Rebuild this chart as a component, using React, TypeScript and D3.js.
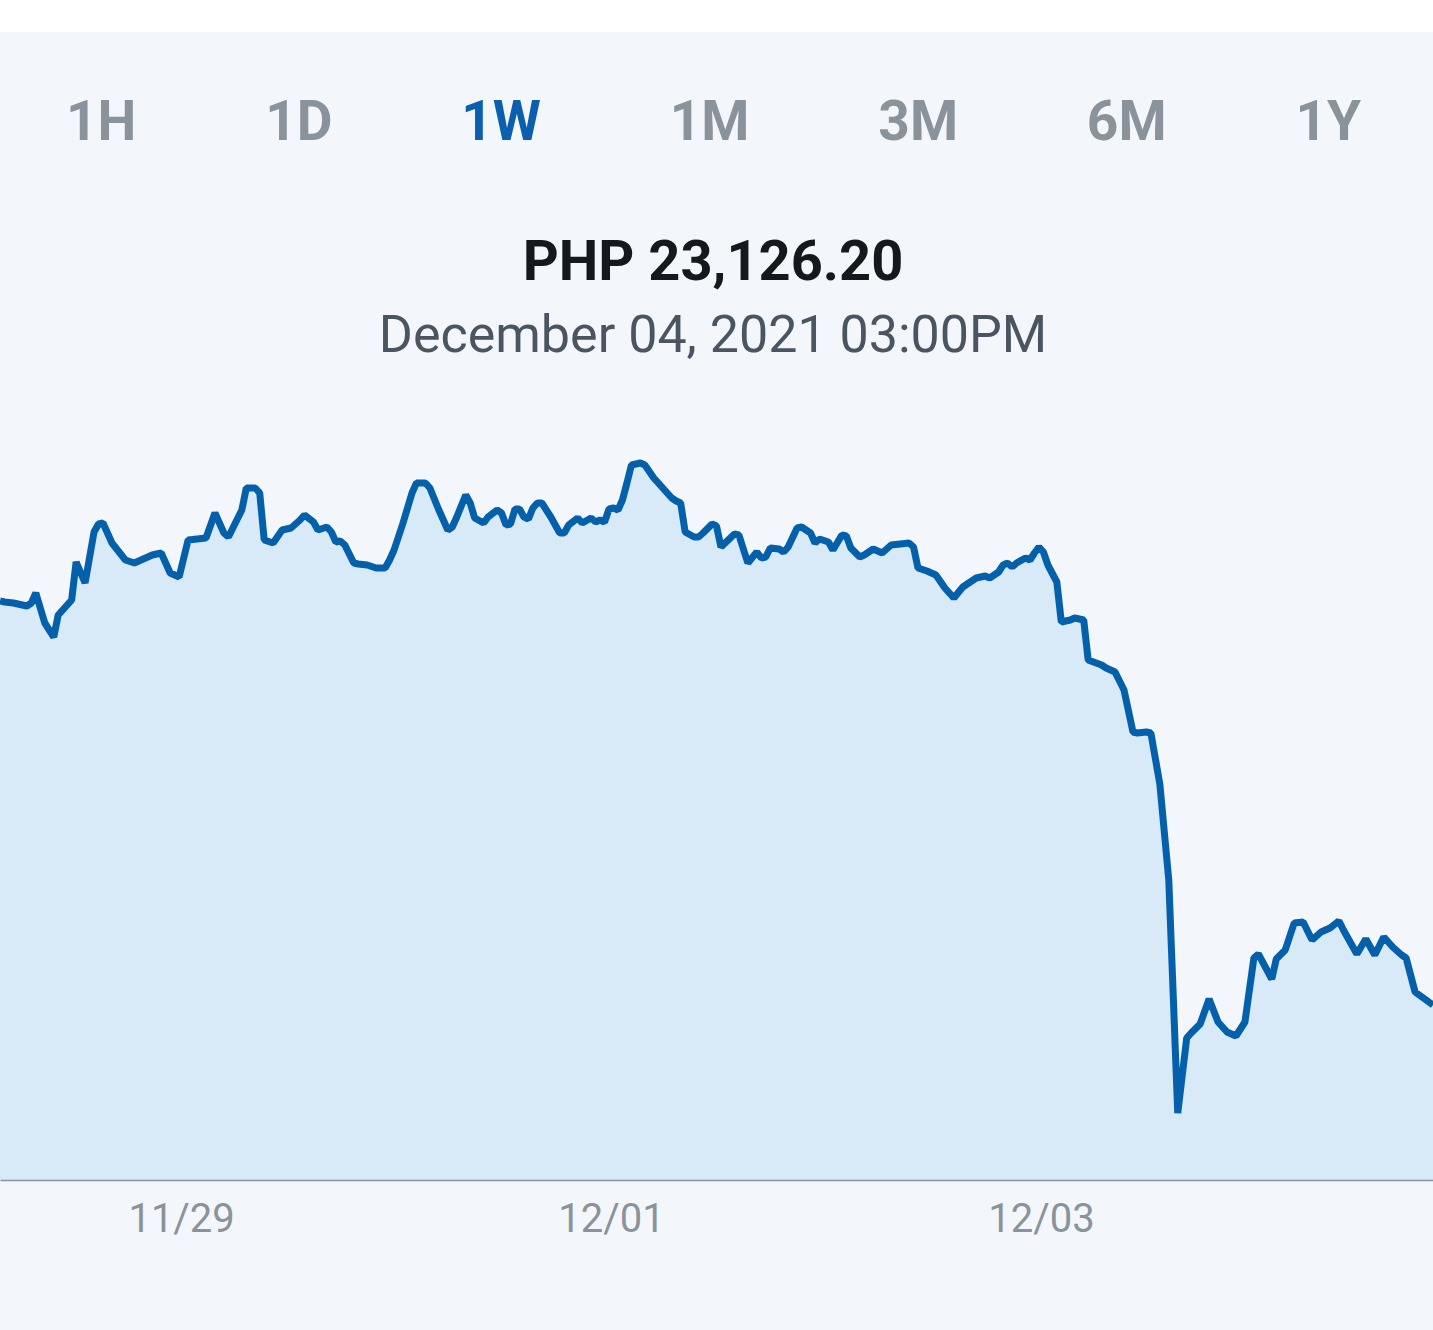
import React, { useEffect, useRef } from 'react';
import * as d3 from 'd3';

// range buttons across the top
const ranges = ['1H', '1D', '1W', '1M', '3M', '6M', '1Y'];
const activeRange = '1W';

const titleText = 'PHP 23,126.20';
const subtitleText = 'December 04, 2021 03:00PM';

// samples are 30 minutes apart, counted from seriesStart
const seriesStart = new Date(2021, 10, 28, 4, 0);
const seriesSteps = 320;

const halfHours = [
    0, 1, 3, 6, 7, 8, 10, 12, 13, 16,
    17, 19, 21, 22, 23, 25, 28, 30, 32, 34,
    36, 38, 40, 42, 44, 46, 48, 50, 51, 54,
    55, 57, 58, 59, 61, 63, 65, 67, 68, 70,
    71, 73, 74, 75, 76, 77, 79, 80, 82, 84,
    86, 87, 88, 90, 92, 93, 95, 96, 98, 100,
    101, 102, 104, 105, 106, 108, 109, 111, 112, 113,
    114, 115, 116, 117, 118, 119, 120, 121, 123, 125,
    126, 127, 129, 130, 132, 133, 134, 135, 136, 137,
    138, 139, 140, 141, 143, 144, 146, 147, 148, 150,
    151, 152, 153, 155, 156, 157, 159, 160, 161, 164,
    165, 167, 169, 170, 171, 172, 174, 175, 176, 178,
    179, 181, 182, 183, 185, 186, 188, 189, 190, 192,
    193, 195, 197, 198, 199, 201, 203, 204, 205, 207,
    209, 211, 213, 215, 216, 218, 220, 221, 223, 224,
    225, 226, 227, 229, 230, 231, 232, 233, 234, 236,
    237, 239, 240, 242, 243, 246, 247, 249, 251, 253,
    254, 256, 257, 259, 261, 263, 265, 266, 268, 270,
    272, 274, 276, 278, 280, 281, 284, 285, 287, 289,
    291, 293, 295, 297, 299, 300, 303, 305, 307, 309,
    311, 313, 314, 316, 320,
];

const prices = [
    27166, 27156, 27146, 27116, 27146, 27246, 26946, 26806, 27026, 27176,
    27556, 27346, 27856, 27936, 27946, 27746, 27576, 27546, 27586, 27626,
    27646, 27446, 27406, 27776, 27786, 27796, 28046, 27846, 27806, 28076,
    28296, 28296, 28246, 27776, 27746, 27876, 27896, 27976, 28026, 27956,
    27876, 27906, 27856, 27756, 27766, 27726, 27546, 27536, 27526, 27496,
    27496, 27576, 27676, 27946, 28246, 28346, 28346, 28296, 28076, 27876,
    27906, 28006, 28226, 28146, 27996, 27946, 28006, 28076, 28046, 27926,
    27936, 28086, 28086, 28006, 27986, 28096, 28146, 28146, 28006, 27846,
    27846, 27926, 27996, 27946, 27996, 27956, 27976, 27956, 28086, 28096,
    28076, 28176, 28346, 28526, 28546, 28526, 28396, 28346, 28296, 28196,
    28166, 28146, 27856, 27806, 27806, 27846, 27936, 27916, 27706, 27836,
    27826, 27546, 27656, 27596, 27606, 27696, 27686, 27656, 27706, 27896,
    27906, 27846, 27746, 27786, 27756, 27676, 27826, 27816, 27696, 27606,
    27626, 27686, 27646, 27686, 27726, 27736, 27746, 27706, 27496, 27466,
    27426, 27296, 27196, 27306, 27336, 27396, 27416, 27396, 27456, 27526,
    27546, 27506, 27546, 27596, 27576, 27646, 27706, 27656, 27526, 27356,
    26956, 26976, 26996, 26976, 26576, 26526, 26496, 26456, 26276, 25856,
    25846, 25856, 25846, 25336, 24376, 22046, 22796, 22846, 22936, 23186,
    22956, 22856, 22816, 22956, 23596, 23636, 23386, 23586, 23676, 23946,
    23956, 23776, 23856, 23896, 23966, 23876, 23636, 23786, 23626, 23806,
    23706, 23626, 23596, 23256, 23126.2,
];

const tickDates = [
    new Date(2021, 10, 29),
    new Date(2021, 11, 1),
    new Date(2021, 11, 3),
];

const W = 1433;
const H = 1330;
const priceFloor = 21376;
const priceCeil = 28676;

const App: React.FC = () => {
    const svgRef = useRef<SVGSVGElement>(null);

    useEffect(() => {
        if (!svgRef.current) return;
        const svg = d3.select(svgRef.current);
        svg.selectAll('*').remove();

        const halfHour = 30 * 60 * 1000;
        const data = halfHours.map((h, i) => ({
            t: new Date(seriesStart.getTime() + h * halfHour),
            v: prices[i],
        }));

        const x = d3
            .scaleTime()
            .domain([seriesStart, new Date(seriesStart.getTime() + seriesSteps * halfHour)])
            .range([0, W]);
        const y = d3.scaleLinear().domain([priceFloor, priceCeil]).range([1180, 450]);

        // page background
        svg.append('rect').attr('width', W).attr('height', H).attr('fill', '#ffffff');
        svg.append('rect').attr('y', 32).attr('width', W).attr('height', H - 32).attr('fill', '#f3f7fb');

        // range tabs, spread like flex space-between
        const tabs = svg
            .append('g')
            .selectAll<SVGTextElement, string>('text')
            .data(ranges)
            .join('text')
            .attr('y', 140)
            .style('font-family', 'Roboto')
            .style('font-weight', 700)
            .style('font-size', '55px')
            .style('fill', (d) => (d === activeRange ? '#0a5fae' : '#8a939b'))
            .text((d) => d);
        const widths = tabs.nodes().map((n) => n.getComputedTextLength());
        const rowLeft = 66;
        const rowRight = 1361;
        const gap = (rowRight - rowLeft - d3.sum(widths)) / (ranges.length - 1);
        let cursor = rowLeft;
        const lefts = widths.map((w) => {
            const at = cursor;
            cursor += w + gap;
            return at;
        });
        tabs.attr('x', (_, i) => lefts[i]);

        // price header
        svg.append('text')
            .attr('x', 713)
            .attr('y', 280)
            .attr('text-anchor', 'middle')
            .style('font-family', 'Roboto')
            .style('font-weight', 700)
            .style('font-size', '56px')
            .style('fill', '#15191e')
            .text(titleText);
        svg.append('text')
            .attr('x', 713)
            .attr('y', 352)
            .attr('text-anchor', 'middle')
            .style('font-family', 'Roboto')
            .style('font-size', '52px')
            .style('fill', '#4b5561')
            .text(subtitleText);

        // area + line
        const area = d3
            .area<{ t: Date; v: number }>()
            .x((d) => x(d.t))
            .y0(y(priceFloor))
            .y1((d) => y(d.v));
        svg.append('path').datum(data).attr('d', area).attr('fill', '#d8e9f7');

        const line = d3
            .line<{ t: Date; v: number }>()
            .x((d) => x(d.t))
            .y((d) => y(d.v));
        svg.append('path')
            .datum(data)
            .attr('d', line)
            .attr('fill', 'none')
            .attr('stroke', '#0560ac')
            .attr('stroke-width', 7)
            .attr('stroke-linejoin', 'bevel');

        // x axis
        const axis = svg
            .append('g')
            .attr('transform', `translate(0, ${y(priceFloor)})`)
            .call(
                d3
                    .axisBottom(x)
                    .tickValues(tickDates)
                    .tickFormat(d3.timeFormat('%m/%d') as any)
                    .tickSize(0)
                    .tickPadding(24),
            );
        axis.select('.domain').attr('stroke', '#8b949e').attr('stroke-width', 1.5);
        axis.selectAll('text')
            .attr('dx', 2)
            .style('font-family', 'Roboto')
            .style('font-size', '40px')
            .style('fill', '#8a939b');
    }, []);

    return (
        <svg
            ref={svgRef}
            width={W}
            height={H}
            style={{ position: 'absolute', left: 0, top: 0, display: 'block' }}
        />
    );
};

export default App;
